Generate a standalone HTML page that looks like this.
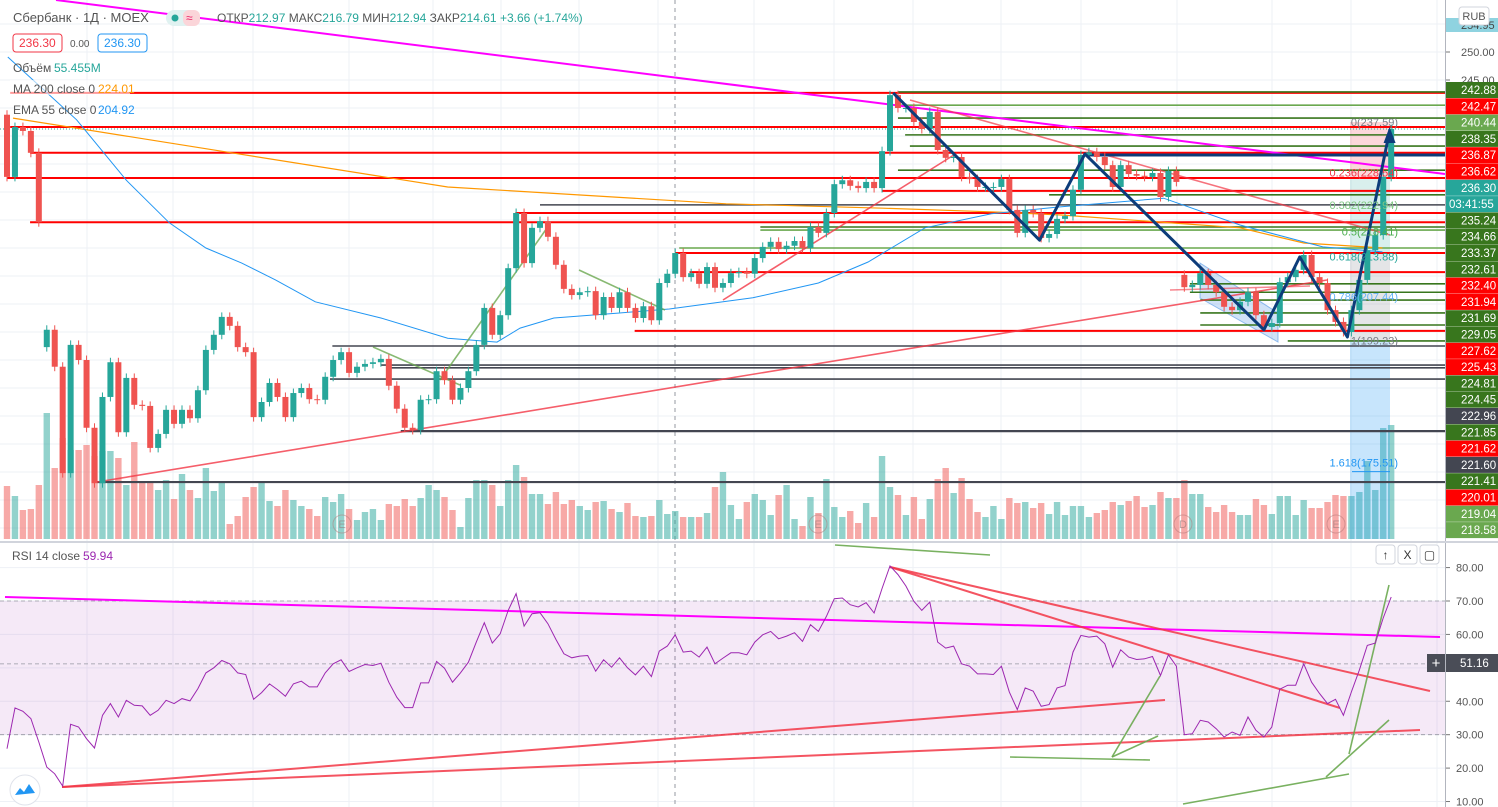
<!DOCTYPE html>
<html><head><meta charset="utf-8">
<style>
html,body{margin:0;padding:0;background:#fff;width:1498px;height:807px;overflow:hidden}
svg{display:block;font-family:"Liberation Sans","DejaVu Sans",sans-serif}
</style></head>
<body>
<svg id="c" width="1498" height="807" viewBox="0 0 1498 807">
<defs><clipPath id="mainClip"><rect x="0" y="0" width="1445" height="541"/></clipPath>
<clipPath id="rsiClip"><rect x="0" y="544" width="1445" height="263"/></clipPath></defs>
<g id="grid"></g>
<g id="mainPane" clip-path="url(#mainClip)"></g>
<g id="rsiPane" clip-path="url(#rsiClip)"></g>
<g id="axis"></g>
<g id="legend"></g>
</svg>
<script>
// ---------- DATA ----------
const closes = [227.7,236.6,235.9,232.0,219.6,200.4,193.8,174.8,197.7,195.0,182.9,173.0,188.4,194.6,182.1,191.8,187.0,186.8,179.3,181.8,186.1,183.6,186.1,184.6,189.6,196.8,199.5,202.7,201.1,197.3,196.4,184.8,187.5,190.9,188.4,184.8,189.1,190.0,188.0,187.9,192.0,195.0,196.4,192.7,193.8,194.3,194.6,195.2,190.4,186.3,182.9,182.5,187.9,188.0,193.0,191.4,
187.9,190.0,193.0,197.7,204.3,199.5,203.0,211.4,221.25,212.3,218.6,219.8,217.0,212.0,207.7,206.6,207.1,207.3,203.0,206.25,204.3,207.1,204.3,202.5,204.6,202.1,208.75,210.4,214.1,209.8,210.5,208.6,211.6,207.9,208.75,210.5,210.7,210.4,213.2,215.2,216.1,214.8,215.4,216.25,215.0,218.75,217.7,221.25,226.4,227.1,226.1,225.7,226.8,225.7,232.3,242.3,
240.0,240.0,237.5,236.25,239.3,232.5,231.1,231.25,227.7,227.3,225.9,225.9,225.9,227.3,221.8,217.7,221.8,221.25,216.8,217.5,220.2,220.7,225.4,231.6,232.1,231.25,229.8,225.9,229.8,228.2,227.9,227.7,228.4,224.1,228.75,226.8,208.0,208.4,210.5,208.4,207.1,204.5,203.9,205.4,207.1,203.0,200.9,201.6,208.9,209.8,211.1,213.75,209.8,208.75,203.9,201.8,200.0,203.9,209.3,214.6,217.3,227.7,236.25];
const firstOpen = 238.8;
const gapOpenIdx = [5,148];
const gapOpenVal = [197.3,210.2];
const volumes = [53,43,29,30,54,126,71,101,89,89,94,83,88,88,81,54,97,58,58,49,59,40,65,49,41,71,48,56,15,23,42,52,56,38,33,49,39,33,30,23,42,37,45,30,19,27,30,19,35,33,40,33,41,54,49,42,
29,12,41,59,59,54,33,59,74,62,45,45,35,47,35,39,33,29,37,38,30,27,36,23,22,23,39,25,28,22,22,22,26,52,67,34,20,37,45,39,24,44,54,20,13,42,26,60,32,22,28,16,36,22,83,52,
44,24,42,20,40,60,71,46,61,40,27,22,33,20,41,36,37,31,36,25,37,24,33,33,22,26,29,37,34,38,43,32,34,47,41,41,59,45,45,32,27,34,27,24,24,40,34,25,43,43,24,39,31,31,37,44,43,43,47,78,49,111,114];
const rsi = [25.8,38,37,34.8,27.8,20.3,18.3,14.6,33.1,32.3,28.8,26,35.8,39.3,35.3,40.3,38.8,38.6,35.8,37.3,40.3,39.3,40.8,40.1,43.8,48.5,50,52.2,51.2,48.5,48,40.6,42.6,45.2,43.5,41.5,45.2,46,44.3,44.3,48.5,51.2,52.4,48.9,50,51,50.7,51.4,45.7,41.2,38.1,38.1,45.5,45.5,51.9,49.9,45.7,48.5,51.7,57.7,63.5,57.4,60.2,67.2,72.2,62.5,66.2,66.5,63.2,58.5,54.2,53,53.5,53.7,49,52.4,50.2,53,50,47.9,50.5,47.4,55,56.5,59.9,54.7,55,
53.2,56.2,51.2,52.9,54.5,54.5,53.9,57.7,59.9,60.9,58.7,59.5,60.5,57.9,62.9,60.9,65.4,70.7,70.9,68.9,68.2,69.5,66.4,73.7,80.5,77.9,74.5,69.9,67.2,69.7,57.7,55.9,56.5,51.2,50.5,48.2,48.2,48,50.5,42.8,37.5,44,43,38.5,39,44,44.7,54.7,59.7,59.2,59.5,57.2,50.2,55.4,53.2,52.5,52.7,53.4,47.7,53.9,50.5,30,30.3,34.3,33.8,31.8,29.3,30.8,29.8,35.3,31.3,29.3,32.3,43.6,44.8,44.8,51.2,45.7,42.3,39.3,40.6,35.8,42.8,49.3,56.7,57.4,64.9,71.2];
const maIdx = [0.75,28.25,55.4,90.4,110.1,125,132.5,155,163,172.9];
const maVal = [238.2,232.0,225.9,222.9,222.1,221.4,220.9,218.6,215.9,215.0];
const emaIdx = [0.1,8.75,15,20.4,25,29.5,33.75,38.75,47,55.4,61.6,64.5,68.75,77,83.25,93.75,102,108.25,115.4,123.75,132,145.4,155,165.4,172.9];
const emaVal = [249.1,237.9,227.1,219.5,215.0,212.3,209.3,205.4,202.5,198.9,198.2,200.7,202.5,203.4,204.1,206.1,208.75,212.5,218.6,221.1,222.3,223.9,219.1,215.2,214.3];
const levelPrice = [242.7,236.6,232.0,227.5,219.6,221.25,214.1,210.7,200.2,225.2, 242.86,238.2,235.2,233.2,228.9,224.5,218.75,208.6,207.1,205.7,203.4,201.25,198.4, 240.5,215.0,218.2, 222.7,197.5,194.1,193.6,191.6,182.3,173.2];
const levelKind  = ['r','r','r','r','r','r','r','r','r','r', 'g','g','g','g','g','g','g','g','g','g','g','g','g', 'l','l','l', 'k','k','k','k','k','K','K'];
const levelStart = [0.4,0.4,2.9,0,2.9,63.9,84,85.8,78.9,110, 112,112,112.9,113.5,112,131,94.7,148.7,148.7,150,150,150,161, 112,84.5,94.7, 67,40.9,47,48.1,40.6,49.5,11.3];
const axisLabels = ['242.88','242.47','240.44','238.35','236.87','236.62','236.30','03:41:55','235.24','234.66','233.37','232.61','232.40','231.94','231.69','229.05','227.62','225.43','224.81','224.45','222.96','221.85','221.62','221.60','221.41','220.01','219.04','218.58'];
const axisKinds  = ['g','r','l','g','r','r','t','t','g','g','g','g','r','r','g','g','r','r','g','g','k','g','r','k','g','r','l','l'];
const priceTicks = [250,245];
const rsiTicks = [80,70,60,50,40,30,20,10];
const fibText = ['0(237.59)','0.236(228.54)','0.382(222.94)','0.5(218.41)','0.618(213.88)','0.786(207.44)','1(199.23)','1.618(175.51)'];
const fibPrice = [236.4,227.4,221.6,216.9,212.4,205.3,197.4,175.6];
const zigIdx = [111.4,129.8,135.5,158,162.5,168.5,173.8];
const zigPrice = [242.7,216.4,231.8,200.4,213.4,199.1,235.9];

// ---------- SCALES ----------
const xI = i => 7 + i*7.955;
const yP = p => 52 + (250-p)*5.6;
const yR = v => 601 + (70-v)*3.342;
const yV = v => 539 - v;
const NS='http://www.w3.org/2000/svg';
function mk(parent, tag, attrs){const e=document.createElementNS(NS,tag);for(const k in attrs)e.setAttribute(k,attrs[k]);parent.appendChild(e);return e;}
const grid=document.getElementById('grid'),main=document.getElementById('mainPane'),rp=document.getElementById('rsiPane'),ax=document.getElementById('axis'),lg=document.getElementById('legend');
const KC={r:'#ff0000',g:'#38761d',l:'#6aa84f',k:'#434651',K:'#434651',t:'#26a69a'};

// grid
[87,173,253,349,433,501,579,658,754,834,913,1001,1081,1177,1272,1351,1437].forEach(x=>{const l=mk(grid,'line',{x1:x,y1:0,x2:x,y2:807,stroke:'#eef1f6','stroke-width':1});});
for(let y=24;y<540;y+=28){const l=mk(grid,'line',{x1:0,y1:y,x2:1445,y2:y,stroke:'#eef1f6'});}
rsiTicks.forEach(v=>{const l=mk(grid,'line',{x1:0,y1:yR(v),x2:1445,y2:yR(v),stroke:'#eef1f6'});});

// volume
closes.forEach((c,i)=>{let o=i===0?firstOpen:closes[i-1];const gi=gapOpenIdx.indexOf(i);if(gi>=0)o=gapOpenVal[gi];
 const up=c>=o;const r=mk(main,'rect',{x:xI(i)-3.2,y:yV(volumes[i]),width:6.4,height:volumes[i],fill:up?'rgba(38,166,154,0.5)':'rgba(239,83,80,0.5)'});
 });
// E/D markers
[[342,'E'],[818,'E'],[1183,'D'],[1336,'E']].forEach(m=>{const g=mk(main,'g',{});
 mk(g,'circle',{cx:m[0],cy:524,r:9,fill:'none',stroke:'rgba(180,120,120,0.5)'});const t=mk(g,'text',{x:m[0],y:528,'font-size':11,fill:'rgba(150,120,120,0.6)','text-anchor':'middle'});t.textContent=m[1];});

// position tool
[[122,177,'rgba(242,54,69,0.2)'],[177,257,'rgba(0,150,136,0.15)'],[257,340,'rgba(120,123,134,0.2)'],[340,539,'rgba(33,150,243,0.25)']].forEach(z=>{const r=mk(main,'rect',{x:1350,y:z[0],width:40,height:z[1]-z[0],fill:z[2]});});
// channel
{const p=mk(main,'polygon',{points:'1200,263 1278,313 1278,342 1200,298',fill:'rgba(100,160,230,0.3)',stroke:'rgba(80,150,230,0.6)'});}

// levels
levelPrice.forEach((p,i)=>{const k=levelKind[i];const l=mk(main,'line',{x1:xI(levelStart[i]),y1:yP(p),x2:1445,y2:yP(p),stroke:KC[k],'stroke-width':k==='K'?2.2:(k==='r'?2:1.6)});
 });
// current price dotted
{const l=mk(main,'line',{x1:0,y1:yP(closes[closes.length-1]),x2:1445,y2:yP(closes[closes.length-1]),stroke:'#26a69a','stroke-dasharray':'1,2'});}

// MA & EMA
function poly(parent,xs,ys,color,w,name){const pts=xs.map((x,i)=>x.toFixed(1)+','+ys[i].toFixed(1)).join(' ');const p=mk(parent,'polyline',{points:pts,fill:'none',stroke:color,'stroke-width':w});return p;}
poly(main,maIdx.map(xI),maVal.map(yP),'#ff9800',1.2,'ma-200-line');
poly(main,emaIdx.map(xI),emaVal.map(yP),'#2196f3',1,'ema-55-line');

// trendlines main
[[56,0,1445,174,'#ff00ff',2],[97,482,1327,280,'rgba(242,54,69,0.8)',1.6],[723,300,957,153,'rgba(242,54,69,0.8)',1.6],[910,100,1390,235,'rgba(242,54,69,0.7)',1.6],[1170,290,1310,286,'rgba(242,54,69,0.6)',1.6],
 [440,380,547,228,'rgba(106,168,79,0.8)',1.6],[579,270,665,310,'rgba(106,168,79,0.8)',1.6],[373,347,460,385,'rgba(106,168,79,0.8)',1.6],[1085,155,1445,155,'#0d3c7a',3]].forEach(t=>{
 const l=mk(main,'line',{x1:t[0],y1:t[1],x2:t[2],y2:t[3],stroke:t[4],'stroke-width':t[5]});});

// candles
closes.forEach((c,i)=>{let o=i===0?firstOpen:closes[i-1];const gi=gapOpenIdx.indexOf(i);if(gi>=0)o=gapOpenVal[gi];
 const up=c>=o,col=up?'#26a69a':'#ef5350',x=xI(i);const hi=Math.max(o,c)+0.8,lo=Math.min(o,c)-0.8;
 const g=mk(main,'g',{});
 mk(g,'line',{x1:x,y1:yP(hi),x2:x,y2:yP(lo),stroke:col,'stroke-width':1});
 const top=yP(Math.max(o,c)),h=Math.max(1,yP(Math.min(o,c))-top);mk(g,'rect',{x:x-3,y:top,width:6,height:h,fill:col});});

// zigzag
{const p=poly(main,zigIdx.map(xI),zigPrice.map(yP),'#0d3c7a',3,'zigzag-pattern');p.setAttribute('stroke-linejoin','round');
 const n=zigIdx.length-1,x=xI(zigIdx[n]),y=yP(zigPrice[n]);const a=mk(main,'polygon',{points:`${x},${y-4} ${x-6},${y+12} ${x+6},${y+12}`,fill:'#0d3c7a'});}
// fib labels
const fibColors=['#787b86','#f23645','#81c784','#4caf50','#26a69a','#64b5f6','#787b86','#2196f3'];
fibText.forEach((t,i)=>{const e=mk(main,'text',{x:1398,y:yP(fibPrice[i])-2,'font-size':11,fill:fibColors[i],'text-anchor':'end'});e.textContent=t;});
{const l=mk(main,'line',{x1:1352,y1:yP(fibPrice[7])+3,x2:1390,y2:yP(fibPrice[7])+3,stroke:'#2196f3'});}
// dashed vertical
{const l=mk(grid,'line',{x1:675,y1:0,x2:675,y2:807,stroke:'#9598a1','stroke-dasharray':'4,4'});}

// ---------- RSI ----------
{const r=mk(rp,'rect',{x:0,y:yR(70),width:1445,height:yR(30)-yR(70),fill:'rgba(156,39,176,0.1)'});}
[70,50,30].forEach(v=>{const l=mk(rp,'line',{x1:0,y1:yR(v)-(v===50?4:0),x2:1445,y2:yR(v)-(v===50?4:0),stroke:'#9598a1','stroke-dasharray':'4,3','stroke-width':0.8});});
[[5,597,1440,637,'#ff00ff',2],[62,787,1165,700,'rgba(242,54,69,0.85)',2],[62,787,1420,730,'rgba(242,54,69,0.85)',2],[890,567,1430,691,'rgba(242,54,69,0.85)',2],[890,567,1340,708,'rgba(242,54,69,0.85)',2],
 [835,545,990,555,'rgba(106,168,79,0.9)',1.6],[1010,757,1150,760,'rgba(106,168,79,0.9)',1.6],[1112,757,1160,676,'rgba(106,168,79,0.9)',1.6],[1112,757,1158,736,'rgba(106,168,79,0.9)',1.6],
 [1183,804,1349,774,'rgba(106,168,79,0.9)',1.6],[1326,777,1389,720,'rgba(106,168,79,0.9)',1.6],[1349,754,1389,585,'rgba(106,168,79,0.9)',1.6]].forEach(t=>{
 const l=mk(rp,'line',{x1:t[0],y1:t[1],x2:t[2],y2:t[3],stroke:t[4],'stroke-width':t[5]});});
poly(rp,rsi.map((v,i)=>xI(i)),rsi.map(yR),'#9c27b0',1,'rsi-line');

// ---------- AXIS ----------
{const l=mk(ax,'line',{x1:1445.5,y1:0,x2:1445.5,y2:807,stroke:'#b2b5be'});
 const s=mk(ax,'line',{x1:0,y1:542,x2:1498,y2:542,stroke:'#d1d4dc','stroke-width':2});}
{const r=mk(ax,'rect',{x:1446,y:18,width:53,height:14,fill:'#8fd3e0'});
 const t=mk(ax,'text',{x:1461,y:29,'font-size':11,fill:'#444'});t.textContent='254.95';}
priceTicks.forEach(p=>{const t=mk(ax,'text',{x:1461,y:yP(p)+4,'font-size':11,fill:'#555'});t.textContent=p.toFixed(2);mk(ax,'line',{x1:1446,y1:yP(p),x2:1450,y2:yP(p),stroke:'#777'});});
axisLabels.forEach((s,i)=>{const y=90+i*16.3,k=axisKinds[i];const g=mk(ax,'g',{});
 mk(g,'rect',{x:1446,y:y-8,width:53,height:16,fill:KC[k]});const t=mk(g,'text',{x:i===7?1449:1461,y:y+4,'font-size':11.5,fill:'#fff'});t.textContent=s;});
rsiTicks.forEach(v=>{if(v===50)return;const t=mk(ax,'text',{x:1456,y:yR(v)+4,'font-size':11,fill:'#555'});t.textContent=v.toFixed(2);mk(ax,'line',{x1:1446,y1:yR(v),x2:1450,y2:yR(v),stroke:'#777'});});
{const g=mk(ax,'g',{});
 mk(g,'rect',{x:1427,y:654,width:18,height:18,fill:'#4a4d57'});const p=mk(g,'text',{x:1436,y:668,'font-size':15,fill:'#fff','text-anchor':'middle'});p.textContent='+';
 mk(g,'rect',{x:1446,y:654,width:53,height:18,fill:'#4a4d57'});const t=mk(g,'text',{x:1460,y:667,'font-size':11.5,fill:'#fff'});t.textContent='51.16';}
{const g=mk(ax,'g',{});
 mk(g,'rect',{x:1459,y:7,width:30,height:18,rx:3,fill:'#fff',stroke:'#d1d4dc'});const t=mk(g,'text',{x:1474,y:20,'font-size':11,fill:'#555','text-anchor':'middle'});t.textContent='RUB';}
['↑','X','▢'].forEach((s,i)=>{const g=mk(ax,'g',{});
 mk(g,'rect',{x:1376+i*22,y:545,width:19,height:19,rx:3,fill:'#fff',stroke:'#d1d4dc'});const t=mk(g,'text',{x:1385.5+i*22,y:559,'font-size':12,fill:'#333','text-anchor':'middle'});t.textContent=s;});

// ---------- LEGEND ----------
function txt(x,y,s,col,size,name){const t=mk(lg,'text',{x:x,y:y,'font-size':size||12,fill:col});t.textContent=s;return t;}
txt(13,22,'Сбербанк · 1Д · MOEX','#555',13,'symbol-title');
{const r=mk(lg,'rect',{x:166,y:10,width:34,height:16,rx:8,fill:'#e0f2f1'});
 mk(lg,'circle',{cx:175,cy:18,r:3.5,fill:'#26a69a'});mk(lg,'rect',{x:183,y:10,width:17,height:16,rx:6,fill:'#fbd5d9'});txt(186,22,'≈','#e91e63',12,'delay-icon');}
{const t=mk(lg,'text',{x:217,y:22,'font-size':12,fill:'#555'});
 [['ОТКР','#555'],['212.97 ','#26a69a'],['МАКС','#555'],['216.79 ','#26a69a'],['МИН','#555'],['212.94 ','#26a69a'],['ЗАКР','#555'],['214.61 ','#26a69a'],['+3.66 (+1.74%)','#26a69a']].forEach(s=>{const ts=mk(t,'tspan',{fill:s[1]});ts.textContent=s[0];});}
[[13,'236.30','#f23645',49],[70,'0.00',null,0],[98,'236.30','#2196f3',49]].forEach(b=>{const g=mk(lg,'g',{});
 if(b[2]){mk(g,'rect',{x:b[0],y:34,width:b[3],height:18,rx:3,fill:'#fff',stroke:b[2]});}
 const t=mk(g,'text',{x:b[0]+(b[2]?6:0),y:47,'font-size':b[2]?12:10,fill:b[2]||'#555'});t.textContent=b[1];});
txt(13,72,'Объём','#555',12,'volume-label');txt(54,72,'55.455M','#26a69a',12,'volume-value');
{const r=mk(lg,'rect',{x:10,y:80,width:120,height:15,fill:'rgba(255,255,255,0.6)'});}
txt(13,93,'MA 200 close 0','#555',12,'ma-label');txt(98,93,'224.01','#ff9800',12,'ma-value');
txt(13,114,'EMA 55 close 0','#555',12,'ema-label');txt(98,114,'204.92','#2196f3',12,'ema-value');
txt(12,560,'RSI 14 close','#555',12,'rsi-label');txt(83,560,'59.94','#9c27b0',12,'rsi-value');
{const g=mk(lg,'g',{});
 mk(g,'circle',{cx:25,cy:790,r:15,fill:'#fff',stroke:'#e0e3eb'});mk(g,'path',{d:'M15 795 l5 -7 l4 4 l5 -8 l6 9 z',fill:'#2196f3'});}
</script>
</body></html>
